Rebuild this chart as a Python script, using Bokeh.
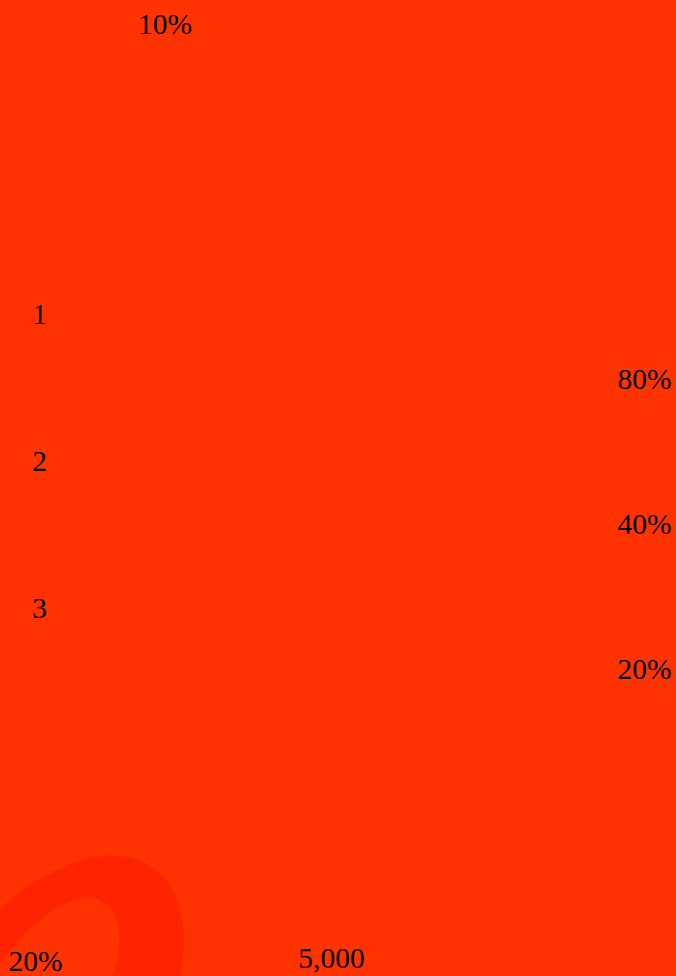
from bokeh.plotting import figure
from bokeh.models import Range1d, LogScale, ColumnDataSource, Label
from bokeh.core.properties import value
from bokeh.embed import file_html
from bokeh.resources import INLINE

# ---- data ----
ranks = [1, 2, 3]
rank_labels = ["1", "2", "3"]
shares = [0.8, 0.4, 0.2]
share_labels = ["80%", "40%", "20%"]
top_label = "10%"
bottom_labels = ["20%", "5,000"]

# decorative ring (outer / inner ellipse, pixel units)
ring_x = [37.4, 38.0]
ring_y = [-54.6, -30.0]
ring_w = [220, 112]
ring_h = [400, 246]

BG = "#FF3300"
RING = "#FF2300"
FONT = "Liberation Serif"
FS = "29.5px"

W, H = 676, 976
p = figure(width=W, height=H, x_range=Range1d(0, W), y_range=Range1d(0, H),
           output_backend="svg", toolbar_location=None, min_border=0,
           background_fill_color=BG, border_fill_color=BG, outline_line_color=None)
p.axis.visible = False
p.grid.visible = False

p.extra_y_ranges = {"rank": Range1d(5.511, -1.140),
                    "share": Range1d(0.04605, 4.870)}
p.extra_y_scales = {"share": LogScale()}

p.ellipse(x=ring_x[:1], y=ring_y[:1], width=ring_w[:1], height=ring_h[:1],
          angle=-0.611, fill_color=RING, line_color=None)
p.ellipse(x=ring_x[1:], y=ring_y[1:], width=ring_w[1:], height=ring_h[1:],
          angle=-0.56, fill_color=BG, line_color=None)

src_r = ColumnDataSource(dict(x=[39] * len(ranks), y=ranks, t=rank_labels))
p.text(x="x", y="y", text="t", source=src_r, y_range_name="rank",
       text_font=value(FONT), text_font_size=FS, text_color="black",
       text_align="center", text_baseline="middle")

src_s = ColumnDataSource(dict(x=[671] * len(shares), y=shares, t=share_labels))
p.text(x="x", y="y", text="t", source=src_s, y_range_name="share",
       text_font=value(FONT), text_font_size=FS, text_color="black",
       text_align="right", text_baseline="middle")

p.add_layout(Label(x=164.5, y=H - 23.5, text=top_label, text_font=FONT,
                   text_font_size=FS, text_color="black", text_align="center",
                   text_baseline="middle"))
p.add_layout(Label(x=35, y=H - 960, text=bottom_labels[0], text_font=FONT,
                   text_font_size=FS, text_color="black", text_align="center",
                   text_baseline="middle"))
p.add_layout(Label(x=331, y=H - 958, text=bottom_labels[1], text_font=FONT,
                   text_font_size=FS, text_color="black", text_align="center",
                   text_baseline="middle"))

page_style = ("{% block preamble %}<style>html, body { background: " + BG +
              "; margin: 0; overflow: hidden; }</style>{% endblock %}")
open("out.html", "w").write(file_html(p, INLINE, template=page_style))
